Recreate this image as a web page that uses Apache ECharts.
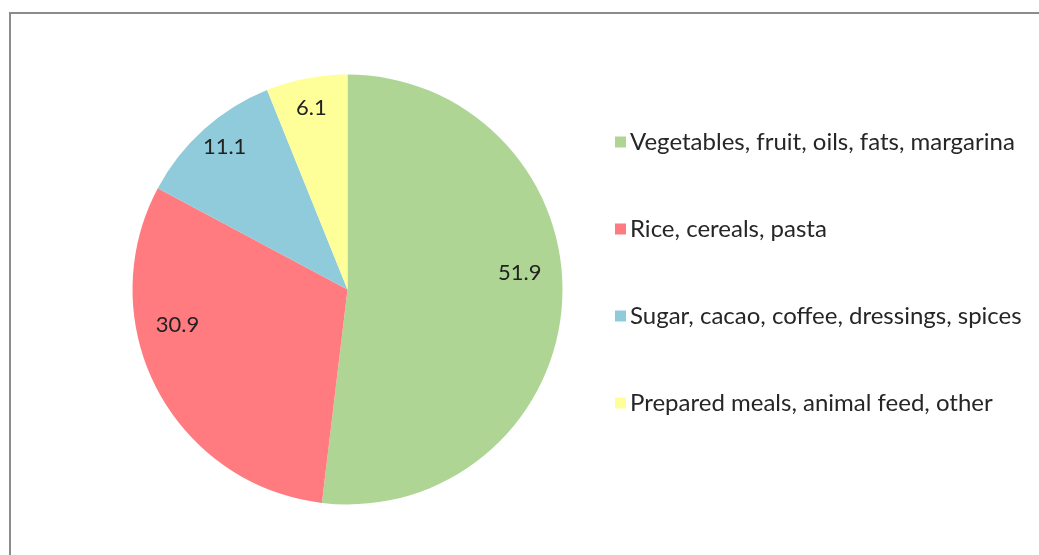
<!DOCTYPE html>
<html>
<head>
<meta charset="utf-8">
<script src="https://cdn.jsdelivr.net/npm/echarts@6/dist/echarts.min.js"></script>
<style>
  html, body { margin: 0; padding: 0; background: #fff; }
  #chart { width: 1039px; height: 555px; }
</style>
</head>
<body>
<div id="chart"></div>
<script>
// Food categories and their shares (%)
const categories = [
  'Vegetables, fruit, oils, fats, margarina',
  'Rice, cereals, pasta',
  'Sugar, cacao, coffee, dressings, spices',
  'Prepared meals, animal feed, other'
];
const shares = [51.9, 30.9, 11.1, 6.1];
const sliceColors = ['#afd595', '#ff7b7f', '#90cbdb', '#ffff99'];

// Nudges for each value label, relative to the slice's inside position
const labelShift = [[62, -23], [-72, -16], [-49, -60], [-15, -73]];

const chart = echarts.init(document.getElementById('chart'), null, { renderer: 'canvas' });

chart.setOption({
  animation: false,
  backgroundColor: '#ffffff',
  graphic: [{
    type: 'rect',
    shape: { x: 10, y: 13, width: 1200, height: 700 },
    style: { fill: 'none', stroke: '#8c8c8c', lineWidth: 2 },
    z: -1
  }],
  legend: {
    orient: 'vertical',
    left: 610,
    top: 125,
    itemWidth: 11,
    itemHeight: 11,
    itemGap: 63,
    icon: 'rect',
    textStyle: { fontFamily: 'Lato', fontSize: 24, color: '#262626', padding: [0, 0, 0, -1] },
    data: categories
  },
  series: [{
    type: 'pie',
    center: [347.5, 289.5],
    radius: 215,
    startAngle: 90,
    clockwise: true,
    avoidLabelOverlap: false,
    itemStyle: { borderWidth: 0 },
    emphasis: { disabled: true },
    label: {
      show: true,
      position: 'inside',
      fontFamily: 'Lato',
      fontSize: 22,
      color: '#222',
      formatter: p => p.value.toFixed(1)
    },
    labelLine: { show: false },
    labelLayout: p => ({ dx: labelShift[p.dataIndex][0], dy: labelShift[p.dataIndex][1] }),
    data: categories.map((name, i) => ({
      name: name,
      value: shares[i],
      itemStyle: { color: sliceColors[i] }
    }))
  }]
});
</script>
</body>
</html>
